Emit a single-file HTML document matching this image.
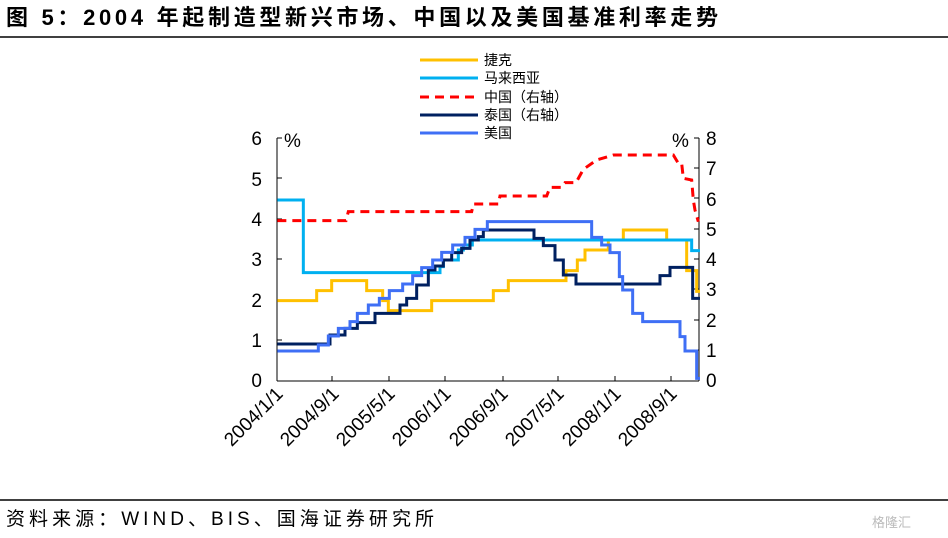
<!DOCTYPE html>
<html><head><meta charset="utf-8"><style>
body{margin:0;background:#fff;width:948px;height:538px;overflow:hidden;font-family:"Liberation Sans","Noto Sans CJK SC",sans-serif;}
</style></head><body>
<svg width="948" height="538" xmlns="http://www.w3.org/2000/svg" style="position:absolute;left:0;top:0">
<text x="6" y="25" font-size="22" font-weight="bold" textLength="712" lengthAdjust="spacing" font-family="Liberation Sans,Noto Sans CJK SC,sans-serif">图 5：2004 年起制造型新兴市场、中国以及美国基准利率走势</text>
<line x1="0" y1="37" x2="948" y2="37" stroke="#000" stroke-width="1.5"/>
<line x1="0" y1="500" x2="948" y2="500" stroke="#000" stroke-width="1.5"/>
<text x="6" y="525" font-size="19" textLength="428" lengthAdjust="spacing" font-family="Liberation Sans,Noto Sans CJK SC,sans-serif">资料来源：WIND、BIS、国海证券研究所</text>
<text x="872" y="527" font-size="13" fill="#bbb" font-family="Liberation Sans,Noto Sans CJK SC,sans-serif">格隆汇</text>
<g font-size="14" font-family="Liberation Sans,Noto Sans CJK SC,sans-serif">
<line x1="420" y1="60" x2="478" y2="60" stroke="#FFC000" stroke-width="3"/><text x="484" y="65">捷克</text>
<line x1="420" y1="78" x2="478" y2="78" stroke="#00B0F0" stroke-width="3"/><text x="484" y="83">马来西亚</text>
<line x1="420" y1="97" x2="478" y2="97" stroke="#FF0000" stroke-width="3" stroke-dasharray="9,6"/><text x="484" y="102">中国（右轴）</text>
<line x1="420" y1="115" x2="478" y2="115" stroke="#002060" stroke-width="3"/><text x="484" y="120">泰国（右轴）</text>
<line x1="420" y1="133" x2="478" y2="133" stroke="#3F6FF5" stroke-width="3"/><text x="484" y="138">美国</text>
</g>
<g font-size="19" text-anchor="end">
<text x="262" y="387">0</text><text x="262" y="347">1</text><text x="262" y="307">2</text><text x="262" y="266">3</text><text x="262" y="226">4</text><text x="262" y="186">5</text><text x="262" y="145">6</text>
</g>
<g font-size="19">
<text x="706" y="387">0</text><text x="706" y="357">1</text><text x="706" y="327">2</text><text x="706" y="296">3</text><text x="706" y="266">4</text><text x="706" y="236">5</text><text x="706" y="206">6</text><text x="706" y="175">7</text><text x="706" y="145">8</text>
<text x="284" y="147">%</text><text x="672" y="147">%</text>
</g>
<g stroke="#000" stroke-width="1">
<line x1="277" y1="138" x2="277" y2="381"/><line x1="699" y1="138" x2="699" y2="381"/><line x1="277" y1="381" x2="699" y2="381"/>
<line x1="277" y1="138" x2="282" y2="138"/><line x1="277" y1="178" x2="282" y2="178"/><line x1="277" y1="219" x2="282" y2="219"/><line x1="277" y1="259" x2="282" y2="259"/><line x1="277" y1="300" x2="282" y2="300"/><line x1="277" y1="340" x2="282" y2="340"/>
<line x1="694" y1="138" x2="699" y2="138"/><line x1="694" y1="168" x2="699" y2="168"/><line x1="694" y1="198" x2="699" y2="198"/><line x1="694" y1="229" x2="699" y2="229"/><line x1="694" y1="259" x2="699" y2="259"/><line x1="694" y1="289" x2="699" y2="289"/><line x1="694" y1="320" x2="699" y2="320"/><line x1="694" y1="350" x2="699" y2="350"/>
<line x1="332" y1="381" x2="332" y2="376"/><line x1="389" y1="381" x2="389" y2="376"/><line x1="445" y1="381" x2="445" y2="376"/><line x1="503" y1="381" x2="503" y2="376"/><line x1="558" y1="381" x2="558" y2="376"/><line x1="615" y1="381" x2="615" y2="376"/><line x1="671" y1="381" x2="671" y2="376"/>
</g>
<g font-size="19" text-anchor="end">
<text transform="translate(284,395) rotate(-45)">2004/1/1</text>
<text transform="translate(340,395) rotate(-45)">2004/9/1</text>
<text transform="translate(396,395) rotate(-45)">2005/5/1</text>
<text transform="translate(452,395) rotate(-45)">2006/1/1</text>
<text transform="translate(509,395) rotate(-45)">2006/9/1</text>
<text transform="translate(565,395) rotate(-45)">2007/5/1</text>
<text transform="translate(622,395) rotate(-45)">2008/1/1</text>
<text transform="translate(678,395) rotate(-45)">2008/9/1</text>
</g>
<g transform="translate(270,130) scale(0.33333)" fill="none" stroke-width="3" stroke-linejoin="miter">
<path vector-effect="non-scaling-stroke" stroke="#FFC000" d="M22,512H140V482H185V452H290V482H338V512H355V542H485V512H670V482H715V452H888V422H922V390H945V360H1015V330H1060V300H1190V330H1250V422H1280V484H1290"/>
<path vector-effect="non-scaling-stroke" stroke="#00B0F0" d="M22,210H100V428H510V410H520V390H565V360H580V345H607V330H1265V362H1290"/>
<path vector-effect="non-scaling-stroke" stroke="#FF0000" stroke-dasharray="9,6" d="M22,272H228L235,245H605L610,222H685L690,198H830L840,172H875L885,158H918L940,118L980,90L1030,75H1210L1225,100H1235L1240,145L1265,150L1270,210L1275,240L1285,275"/>
<path vector-effect="non-scaling-stroke" stroke="#002060" d="M22,642H180V615H225V595H262V578H315V550H390V525H410V505H440V465H475V420H495V408H520V390H545V368H575V355H600V330H625V320H640V300H792V325H820V347H855V390H880V435H918V462H1170V437H1200V412H1268V505H1290"/>
<path vector-effect="non-scaling-stroke" stroke="#3F6FF5" d="M22,663H145V645H175V618H205V595H240V575H262V550H295V525H328V505H358V482H398V462H428V437H455V413H488V390H515V367H548V345H585V322H615V298H652V275H965V322H995V345H1020V368H1048V440H1058V480H1088V550H1118V575H1230V620H1245V663H1280V745H1290"/>
</g>
</svg>
</body></html>
